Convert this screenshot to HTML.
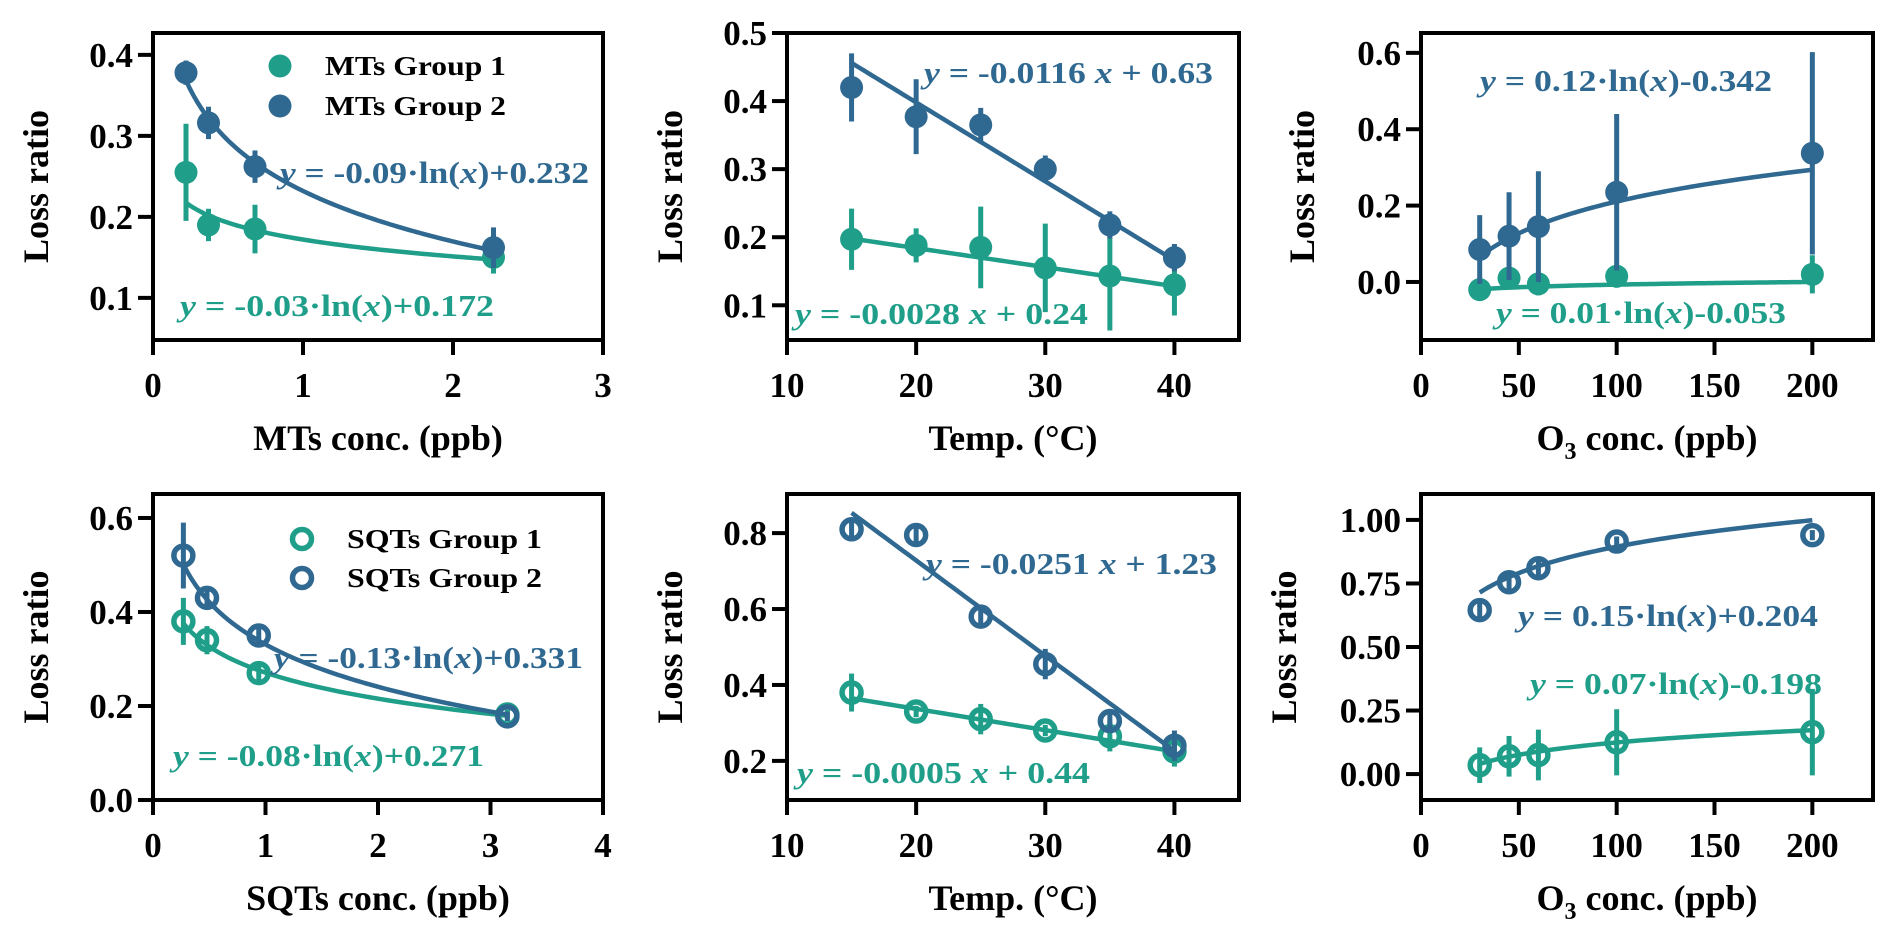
<!DOCTYPE html>
<html><head><meta charset="utf-8">
<style>
html,body{margin:0;padding:0;background:#fff;}
svg{display:block;}
text{font-family:"Liberation Serif","Times New Roman",serif;font-weight:bold;}
</style></head>
<body>
<svg id="fig" width="1892" height="943" viewBox="0 0 1892 943" xmlns="http://www.w3.org/2000/svg"></svg>
<script>
// ---------- data ----------
const mtsX = [0.22, 0.37, 0.68, 2.27];
const mtsG1 = [0.255, 0.19, 0.185, 0.15];
const mtsG1Err = [0.06, 0.02, 0.03, 0.02];
const mtsG2 = [0.378, 0.316, 0.262, 0.162];
const mtsG2Err = [0.015, 0.02, 0.02, 0.025];
const mtsFit1 = [-0.03, 0.172];
const mtsFit2 = [-0.09, 0.232];

const tempX = [15, 20, 25, 30, 35, 40];
const tempMtG1 = [0.197, 0.188, 0.185, 0.155, 0.143, 0.13];
const tempMtG1Err = [0.045, 0.025, 0.06, 0.065, 0.08, 0.045];
const tempMtG2 = [0.42, 0.377, 0.365, 0.3, 0.218, 0.17];
const tempMtG2Err = [0.05, 0.055, 0.025, 0.02, 0.02, 0.02];
const tempMtFit1 = [-0.0028, 0.24];
const tempMtFit2 = [-0.0116, 0.63];

const o3X = [30, 45, 60, 100, 200];
const o3MtG1 = [-0.02, 0.01, -0.005, 0.015, 0.02];
const o3MtG1Err = [0.03, 0.03, 0.03, 0.03, 0.05];
const o3MtG2 = [0.085, 0.12, 0.145, 0.235, 0.337];
const o3MtG2Err = [0.09, 0.115, 0.145, 0.205, 0.265];
const o3MtFit1 = [0.01, -0.053];
const o3MtFit2 = [0.12, -0.342];

const sqtX = [0.27, 0.48, 0.94, 3.15];
const sqtG1 = [0.38, 0.34, 0.27, 0.182];
const sqtG1Err = [0.05, 0.03, 0.015, 0.01];
const sqtG2 = [0.52, 0.43, 0.35, 0.178];
const sqtG2Err = [0.07, 0.015, 0.025, 0.01];
const sqtFit1 = [-0.08, 0.271];
const sqtFit2 = [-0.13, 0.331];

const tempSqG1 = [0.38, 0.33, 0.31, 0.28, 0.265, 0.225];
const tempSqG1Err = [0.05, 0.015, 0.04, 0.015, 0.04, 0.04];
const tempSqG2 = [0.81, 0.795, 0.58, 0.455, 0.305, 0.24];
const tempSqG2Err = [0.02, 0.025, 0.03, 0.04, 0.03, 0.04];
const tempSqFit1 = [-0.0056, 0.449];
const tempSqFit2 = [-0.0251, 1.23];

const o3SqG1 = [0.035, 0.07, 0.075, 0.125, 0.165];
const o3SqG1Err = [0.07, 0.08, 0.1, 0.13, 0.17];
const o3SqG2 = [0.645, 0.755, 0.81, 0.915, 0.94];
const o3SqG2Err = [0.03, 0.04, 0.03, 0.02, 0.02];
const o3SqFit1 = [0.07, -0.198];
const o3SqFit2 = [0.15, 0.204];

const ticksMtsX = [0, 1, 2, 3];
const ticksMtsY = [0.1, 0.2, 0.3, 0.4];
const ticksTempX = [10, 20, 30, 40];
const ticksTempMtY = [0.1, 0.2, 0.3, 0.4, 0.5];
const ticksO3X = [0, 50, 100, 150, 200];
const ticksO3MtY = [0.0, 0.2, 0.4, 0.6];
const ticksSqtX = [0, 1, 2, 3, 4];
const ticksSqtY = [0.0, 0.2, 0.4, 0.6];
const ticksTempSqY = [0.2, 0.4, 0.6, 0.8];
const ticksO3SqY = [0.0, 0.25, 0.5, 0.75, 1.0];

const GREEN = '#1f9e89';
const BLUE = '#2f6890';
const NS = 'http://www.w3.org/2000/svg';
const svg = document.getElementById('fig');

function mk(tag, attrs, parent) {
  const e = document.createElementNS(NS, tag);
  for (const k in attrs) e.setAttribute(k, attrs[k]);
  (parent || svg).appendChild(e);
  return e;
}

function panel(cfg) {
  const g = mk('g', {});
  
  
  const L = cfg.box[0], T = cfg.box[1], R = cfg.box[2], B = cfg.box[3];
  const sx = v => L + (v - cfg.xr[0]) / (cfg.xr[1] - cfg.xr[0]) * (R - L);
  const sy = v => B - (v - cfg.yr[0]) / (cfg.yr[1] - cfg.yr[0]) * (B - T);

  cfg.series.forEach((s, si) => {
    const sg = mk('g', {}, g);
    
    
    const x0 = Math.min(...cfg.x), x1 = Math.max(...cfg.x);
    let d = '';
    const N = 80;
    for (let i = 0; i <= N; i++) {
      const xv = x0 + (x1 - x0) * i / N;
      const yv = cfg.fitType === 'ln' ? s.fit[0] * Math.log(xv) + s.fit[1] : s.fit[0] * xv + s.fit[1];
      d += (i ? 'L' : 'M') + sx(xv).toFixed(2) + ',' + sy(yv).toFixed(2);
    }
    const fl = mk('path', {d: d, fill: 'none', stroke: s.color, 'stroke-width': 4.5}, sg);
    
    
    cfg.x.forEach((xv, i) => {
      const eb = mk('line', {x1: sx(xv), x2: sx(xv), y1: sy(s.y[i] - s.err[i]), y2: sy(s.y[i] + s.err[i]), stroke: s.color, 'stroke-width': 5}, sg);
      
      
      const pt = cfg.hollow
        ? mk('circle', {cx: sx(xv), cy: sy(s.y[i]), r: 9.5, fill: 'none', stroke: s.color, 'stroke-width': 5.5}, sg)
        : mk('circle', {cx: sx(xv), cy: sy(s.y[i]), r: 11.5, fill: s.color}, sg);
      
      
    });
  });

  const fr = mk('rect', {x: L, y: T, width: R - L, height: B - T, fill: 'none', stroke: '#000', 'stroke-width': 4}, g);
  
  

  cfg.xt.forEach(v => {
    const t = mk('line', {x1: sx(v), x2: sx(v), y1: B, y2: B + 15, stroke: '#000', 'stroke-width': 4}, g);
    
    
    const tl = mk('text', {x: sx(v), y: B + 57, 'text-anchor': 'middle', 'font-size': 35}, g);
    tl.textContent = String(v);
    
    
  });
  cfg.yt.forEach(v => {
    const t = mk('line', {x1: L - 15, x2: L, y1: sy(v), y2: sy(v), stroke: '#000', 'stroke-width': 4}, g);
    
    
    const tl = mk('text', {x: L - 20, y: sy(v) + 12, 'text-anchor': 'end', 'font-size': 35}, g);
    tl.textContent = v.toFixed(cfg.ydec);
    
    
  });
  const xl = mk('text', {x: (L + R) / 2, y: B + 110, 'text-anchor': 'middle', 'font-size': 36}, g);
  if (cfg.o3) {
    xl.appendChild(document.createTextNode('O'));
    const sub = mk('tspan', {'font-size': 24, dy: 9}, xl); sub.textContent = '3';
    const rest = mk('tspan', {dy: -9}, xl); rest.textContent = ' conc. (ppb)';
  } else xl.textContent = cfg.xlabel;
  
  
  const yl = mk('text', {x: 0, y: 0, 'text-anchor': 'middle', 'font-size': 36, transform: 'translate(' + (cfg.ylx + 12) + ',' + ((T + B) / 2) + ') rotate(-90)'}, g);
  yl.textContent = 'Loss ratio';
  
  

  cfg.ann.forEach(a => {
    const t = mk('text', {x: a[0], y: a[2], 'font-size': 31, fill: a[4], textLength: a[1] - a[0], lengthAdjust: 'spacingAndGlyphs'}, g);
    
    
    a[3].forEach(p => {
      const ts = mk('tspan', p[1] ? {'font-style': 'italic'} : {}, t);
      ts.textContent = p[0];
    });
  });

  if (cfg.legend) {
    cfg.legend.labels.forEach((lab, i) => {
      const lg = mk('g', {}, g);
      
      
      const cy = cfg.legend.y[i];
      if (cfg.hollow) mk('circle', {cx: cfg.legend.mx, cy: cy, r: 9.5, fill: 'none', stroke: cfg.series[i].color, 'stroke-width': 5.5}, lg);
      else mk('circle', {cx: cfg.legend.mx, cy: cy, r: 11.5, fill: cfg.series[i].color}, lg);
      const tt = mk('text', {x: cfg.legend.tx, y: cy + 9, 'font-size': 27, textLength: cfg.legend.w, lengthAdjust: 'spacingAndGlyphs'}, lg);
      tt.textContent = lab;
    });
  }
}

function eq(a, b) { return [['y', true], [' = ' + a + '·ln(', false], ['x', true], [')' + b, false]]; }
function eqL(a, b) { return [['y', true], [' = ' + a + ' ', false], ['x', true], [' + ' + b, false]]; }

panel({name: 'mts-conc-panel', box: [153, 33, 603, 340], xr: [0, 3], yr: [0.048, 0.427], x: mtsX, fitType: 'ln',
  series: [{y: mtsG1, err: mtsG1Err, fit: mtsFit1, color: GREEN}, {y: mtsG2, err: mtsG2Err, fit: mtsFit2, color: BLUE}],
  xt: ticksMtsX, yt: ticksMtsY, ydec: 1, xlabel: 'MTs conc. (ppb)', ylx: 36,
  ann: [[280, 589, 183, eq('-0.09', '+0.232'), BLUE], [180, 494, 316, eq('-0.03', '+0.172'), GREEN]],
  legend: {labels: ['MTs Group 1', 'MTs Group 2'], mx: 280, tx: 325, w: 181, y: [66, 106]}});

panel({name: 'mts-temp-panel', box: [787, 33, 1239, 340], xr: [10, 45], yr: [0.049, 0.5], x: tempX, fitType: 'lin',
  series: [{y: tempMtG1, err: tempMtG1Err, fit: tempMtFit1, color: GREEN}, {y: tempMtG2, err: tempMtG2Err, fit: tempMtFit2, color: BLUE}],
  xt: ticksTempX, yt: ticksTempMtY, ydec: 1, xlabel: 'Temp. (°C)', ylx: 670,
  ann: [[924, 1213, 83, eqL('-0.0116', '0.63'), BLUE], [795, 1088, 324, eqL('-0.0028', '0.24'), GREEN]]});

panel({name: 'mts-o3-panel', box: [1421, 33, 1873, 340], xr: [0, 231], yr: [-0.152, 0.652], x: o3X, fitType: 'ln',
  series: [{y: o3MtG1, err: o3MtG1Err, fit: o3MtFit1, color: GREEN}, {y: o3MtG2, err: o3MtG2Err, fit: o3MtFit2, color: BLUE}],
  xt: ticksO3X, yt: ticksO3MtY, ydec: 1, o3: true, ylx: 1302,
  ann: [[1480, 1772, 91, eq('0.12', '-0.342'), BLUE], [1496, 1786, 323, eq('0.01', '-0.053'), GREEN]]});

panel({name: 'sqts-conc-panel', box: [153, 494, 603, 800], xr: [0, 4], yr: [0.0, 0.651], x: sqtX, fitType: 'ln', hollow: true,
  series: [{y: sqtG1, err: sqtG1Err, fit: sqtFit1, color: GREEN}, {y: sqtG2, err: sqtG2Err, fit: sqtFit2, color: BLUE}],
  xt: ticksSqtX, yt: ticksSqtY, ydec: 1, xlabel: 'SQTs conc. (ppb)', ylx: 36,
  ann: [[274, 583, 668, eq('-0.13', '+0.331'), BLUE], [173, 484, 766, eq('-0.08', '+0.271'), GREEN]],
  legend: {labels: ['SQTs Group 1', 'SQTs Group 2'], mx: 302, tx: 347, w: 195, y: [539, 578]}});

panel({name: 'sqts-temp-panel', box: [787, 494, 1239, 800], xr: [10, 45], yr: [0.097, 0.903], x: tempX, fitType: 'lin', hollow: true,
  series: [{y: tempSqG1, err: tempSqG1Err, fit: tempSqFit1, color: GREEN}, {y: tempSqG2, err: tempSqG2Err, fit: tempSqFit2, color: BLUE}],
  xt: ticksTempX, yt: ticksTempSqY, ydec: 1, xlabel: 'Temp. (°C)', ylx: 670,
  ann: [[926, 1217, 574, eqL('-0.0251', '1.23'), BLUE], [797, 1090, 783, eqL('-0.0005', '0.44'), GREEN]]});

panel({name: 'sqts-o3-panel', box: [1421, 494, 1873, 800], xr: [0, 231], yr: [-0.102, 1.102], x: o3X, fitType: 'ln', hollow: true,
  series: [{y: o3SqG1, err: o3SqG1Err, fit: o3SqFit1, color: GREEN}, {y: o3SqG2, err: o3SqG2Err, fit: o3SqFit2, color: BLUE}],
  xt: ticksO3X, yt: ticksO3SqY, ydec: 2, o3: true, ylx: 1284,
  ann: [[1518, 1818, 626, eq('0.15', '+0.204'), BLUE], [1530, 1822, 694, eq('0.07', '-0.198'), GREEN]]});
</script>
</body></html>
